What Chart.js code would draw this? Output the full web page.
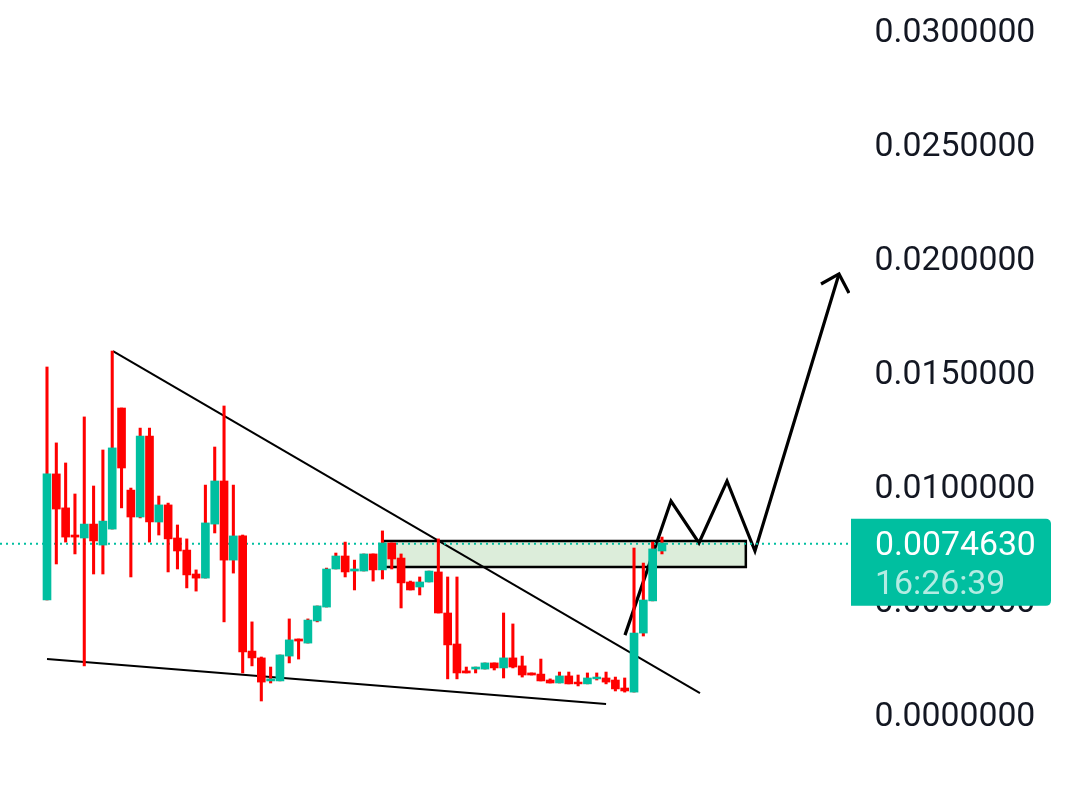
<!DOCTYPE html>
<html>
<head>
<meta charset="utf-8">
<title>Chart</title>
<script src="https://cdn.jsdelivr.net/npm/chart.js@4"></script>
<style>
    html, body { margin: 0; padding: 0; background: #ffffff; }
    #wrap { width: 1080px; height: 802px; }
</style>
</head>
<body>
<div id="wrap"><canvas id="priceChart" width="1080" height="802"></canvas></div>
<script>
// Candle data, one entry per bar, oldest first
const opens = [.00500,.01053,.00904,.00785,.00772,.00833,.00741,.00811,.01342,.00982,.00864,.01219,.00842,.00917,.00772,.00719,.00614,.00596,.00833,.01022,.00675,.00781,.00276,.00246,.00145,.00145,.00254,.00329,.00311,.00408,.00469,.00636,.00693,.00627,.00627,.00702,.00632,.00750,.00684,.00579,.00557,.00579,.00623,.00443,.00307,.00189,.00197,.00197,.00224,.00202,.00246,.00211,.00180,.00175,.00149,.00136,.00167,.00140,.00132,.00154,.00158,.00149,.00114,.00096,.00355,.00496,.00715];
const highs = [.01522,.01189,.01101,.00965,.01303,.01000,.01158,.01592,.01342,.00991,.01254,.01254,.00956,.00925,.00829,.00768,.00632,.01004,.01171,.01351,.01004,.00785,.00404,.00250,.00206,.00259,.00417,.00329,.00417,.00474,.00640,.00706,.00754,.00675,.00702,.00702,.00803,.00750,.00702,.00583,.00601,.00627,.00768,.00601,.00601,.00206,.00206,.00224,.00224,.00443,.00395,.00254,.00180,.00241,.00154,.00184,.00184,.00171,.00180,.00180,.00184,.00162,.00158,.00728,.00662,.00754,.00776];
const lows = [.00500,.00658,.00754,.00702,.00211,.00614,.00614,.00811,.00904,.00601,.00860,.00754,.00785,.00623,.00636,.00553,.00539,.00596,.00794,.00404,.00618,.00180,.00211,.00057,.00136,.00145,.00224,.00241,.00311,.00404,.00469,.00636,.00601,.00544,.00627,.00583,.00592,.00636,.00465,.00544,.00522,.00579,.00443,.00154,.00154,.00180,.00180,.00197,.00193,.00158,.00202,.00162,.00171,.00145,.00136,.00136,.00132,.00123,.00132,.00149,.00132,.00101,.00096,.00096,.00342,.00496,.00702];
const closes = [.01053,.00899,.00776,.00776,.00833,.00759,.00846,.01167,.01079,.00864,.01219,.00842,.00917,.00768,.00715,.00610,.00596,.00838,.01022,.00675,.00781,.00272,.00246,.00140,.00154,.00259,.00325,.00320,.00412,.00474,.00636,.00693,.00623,.00636,.00702,.00632,.00750,.00680,.00575,.00544,.00579,.00627,.00443,.00303,.00180,.00180,.00206,.00224,.00202,.00246,.00206,.00171,.00171,.00145,.00136,.00167,.00132,.00132,.00158,.00162,.00140,.00110,.00101,.00355,.00500,.00724,.00750];

const tickValues = [0, 0.005, 0.01, 0.015, 0.02, 0.025, 0.03];
const lastPrice = 0.007463;
const countdown = '16:26:39';

// Drawn tools, in bar index / price
const upperTrend = [[7.08, .01592], [70.08, .00092]];
const lowerTrend = [[0, .00241], [60, .00044]];
const zoneLeft = 36.06, zoneRight = 75.0, zoneTop = .00759, zoneBottom = .00645;
const projection = [[62.03, .00346], [66.97, .00934], [69.97, .00750], [72.98, .01022], [75.98, .00715], [85.0, .01930]];
const arrowHead = [[83.07, .01886], [85.0, .01930], [86.07, .01846]];

// Visible window of the two scales
const xMin = -5.044, xMax = 86.18;
const yMin = -0.00386, yMax = 0.031316;

const GREEN = '#00bfa0';
const RED = '#ff0000';
const TEXT = '#131722';
const LABEL_FONT = '33.8px Roboto, sans-serif';

const toPoints = pts => pts.map(p => ({ x: p[0], y: p[1] }));
const bars = (a, b) => a.map((v, i) => ({ x: i, y: [v, b[i]] }));

const priceBadge = {
    id: 'priceBadge',
    afterDraw(chart) {
        const { ctx, scales: { y } } = chart;
        const left = chart.chartArea.right + 1;
        const mid = y.getPixelForValue(lastPrice);
        const top = mid - 25;
        ctx.save();
        ctx.fillStyle = GREEN;
        ctx.beginPath();
        ctx.roundRect(left, top, 200, 87, [0, 5, 5, 0]);
        ctx.fill();
        ctx.font = LABEL_FONT;
        ctx.textBaseline = 'middle';
        ctx.textAlign = 'left';
        ctx.fillStyle = '#ffffff';
        ctx.fillText(lastPrice.toFixed(7), left + 24, mid + 3);
        ctx.fillStyle = 'rgba(255, 255, 255, 0.7)';
        ctx.fillText(countdown, left + 24, mid + 42);
        ctx.restore();
    }
};

const lineDefaults = {
    type: 'line',
    borderColor: '#000000',
    pointRadius: 0,
    tension: 0,
    fill: false
};

new Chart(document.getElementById('priceChart'), {
    data: {
        datasets: [
            {
                type: 'bar',
                label: 'Body',
                data: bars(opens, closes),
                backgroundColor: opens.map((o, i) => closes[i] >= o ? GREEN : RED),
                barThickness: 8,
                grouped: false,
                order: 1
            },
            {
                type: 'bar',
                label: 'Wick',
                data: bars(lows, highs),
                backgroundColor: RED,
                barThickness: 2.4,
                grouped: false,
                order: 2
            },
            {
                ...lineDefaults,
                label: 'Last price',
                data: toPoints([[xMin, lastPrice], [xMax, lastPrice]]),
                borderColor: GREEN,
                borderWidth: 2,
                borderDash: [2, 4],
                order: 3
            },
            {
                ...lineDefaults,
                label: 'Upper trend',
                data: toPoints(upperTrend),
                borderWidth: 2,
                order: 4
            },
            {
                ...lineDefaults,
                label: 'Lower trend',
                data: toPoints(lowerTrend),
                borderWidth: 2,
                order: 4
            },
            {
                ...lineDefaults,
                label: 'Projection',
                data: toPoints(projection),
                borderWidth: 3.2,
                borderJoinStyle: 'miter',
                order: 4
            },
            {
                ...lineDefaults,
                label: 'Arrow head',
                data: toPoints(arrowHead),
                borderWidth: 3.2,
                borderJoinStyle: 'miter',
                order: 4
            },
            {
                ...lineDefaults,
                label: 'Zone',
                data: toPoints([[zoneLeft, zoneTop], [zoneRight, zoneTop], [zoneRight, zoneBottom], [zoneLeft, zoneBottom], [zoneLeft, zoneTop]]),
                borderWidth: 2.5,
                order: 5
            },
            {
                ...lineDefaults,
                label: 'Zone fill',
                data: toPoints([[zoneLeft, zoneTop], [zoneRight, zoneTop]]),
                borderWidth: 0,
                backgroundColor: '#dcedda',
                fill: { target: { value: zoneBottom } },
                order: 6
            }
        ]
    },
    options: {
        responsive: false,
        animation: false,
        layout: { padding: 0 },
        plugins: {
            legend: { display: false },
            tooltip: { enabled: false }
        },
        scales: {
            x: {
                type: 'linear',
                min: xMin,
                max: xMax,
                display: false,
                offset: false
            },
            y: {
                position: 'right',
                min: yMin,
                max: yMax,
                border: { display: false },
                grid: { display: false, drawTicks: false },
                afterFit(scale) {
                    // axis spans the full canvas height, labels sit inside it
                    scale.width = 230;
                    scale.paddingTop = 0;
                    scale.paddingBottom = 0;
                },
                afterBuildTicks(scale) { scale.ticks = tickValues.map(v => ({ value: v })); },
                ticks: {
                    padding: 24.5,
                    labelOffset: 4,
                    color: TEXT,
                    autoSkip: false,
                    font: { family: 'Roboto, sans-serif', size: 33.8 },
                    callback: v => v.toFixed(7)
                }
            }
        }
    },
    plugins: [priceBadge]
});
</script>
</body>
</html>
